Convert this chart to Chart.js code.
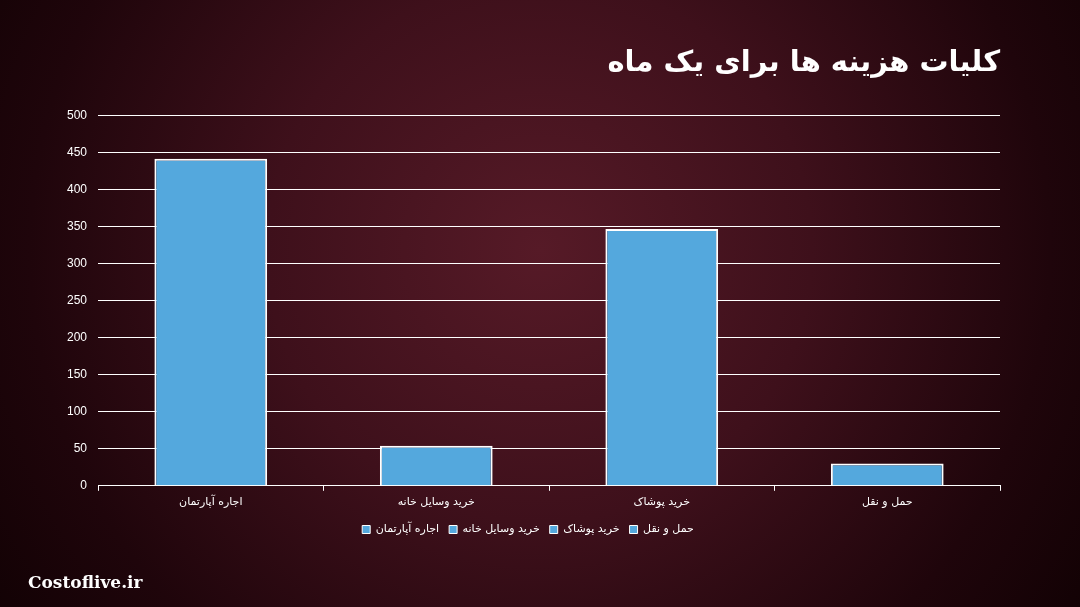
<!DOCTYPE html>
<html>
<head>
<meta charset="utf-8">
<script src="https://cdn.jsdelivr.net/npm/chart.js@4/dist/chart.umd.min.js"></script>
<style>
  html, body { margin: 0; padding: 0; background: #2a0810; }
  #wrap { width: 1080px; height: 607px; position: relative; }
</style>
</head>
<body>
<div id="wrap"><canvas id="c" width="1080" height="607"></canvas></div>
<script>
// داده‌ها
const CATEGORIES = ['اجاره آپارتمان', 'خرید وسایل خانه', 'خرید پوشاک', 'حمل و نقل'];
const COSTS = [442, 54, 347, 30];
const Y_MIN = 0;
const Y_MAX = 500;
const Y_STEP = 50;

const TITLE = 'کلیات هزینه ها برای یک ماه';
const WATERMARK = 'Costoflive.ir';

const BAR_COLOR = '#54a8dd';
const TEXT_COLOR = '#ffffff';
const FA_FONT = '"DejaVu Sans", sans-serif';

// پس‌زمینه زرشکی با گرادیان شعاعی
const bgPlugin = {
  id: 'bg',
  beforeDraw(chart) {
    const { ctx, width, height } = chart;
    ctx.save();
    const g = ctx.createRadialGradient(540, 250, 0, 540, 250, 680);
    g.addColorStop(0, '#561a27');
    g.addColorStop(0.4, '#3e101b');
    g.addColorStop(0.75, '#1f050b');
    g.addColorStop(1, '#100103');
    ctx.fillStyle = g;
    ctx.fillRect(0, 0, width, height);
    ctx.restore();
  },
};

// واترمارک پایین چپ
const markPlugin = {
  id: 'mark',
  afterDraw(chart) {
    const { ctx } = chart;
    ctx.save();
    ctx.fillStyle = TEXT_COLOR;
    ctx.font = 'bold 17px "DejaVu Serif", serif';
    ctx.textBaseline = 'middle';
    ctx.textAlign = 'left';
    ctx.fillText(WATERMARK, 28, 584);
    ctx.restore();
  },
};

new Chart(document.getElementById('c'), {
  type: 'bar',
  data: {
    labels: CATEGORIES,
    datasets: [{
      label: 'هزینه',
      data: COSTS,
      backgroundColor: BAR_COLOR,
      borderColor: '#ffffff',
      borderWidth: 2,
      categoryPercentage: 1,
      barPercentage: 0.5,
    }],
  },
  options: {
    responsive: false,
    animation: false,
    layout: { padding: { left: 56, right: 80, top: 0, bottom: 62 } },
    plugins: {
      title: {
        display: true,
        text: TITLE,
        align: 'end',
        color: TEXT_COLOR,
        font: { family: FA_FONT, size: 29, weight: 'bold' },
        padding: { top: 46, bottom: 35 },
      },
      legend: {
        position: 'bottom',
        labels: {
          color: TEXT_COLOR,
          font: { family: FA_FONT, size: 11 },
          boxWidth: 8,
          boxHeight: 8,
          padding: 10,
          generateLabels: () => CATEGORIES.map((name) => ({
            text: name,
            fillStyle: BAR_COLOR,
            strokeStyle: '#ffffff',
            lineWidth: 1,
            fontColor: TEXT_COLOR,
          })),
        },
      },
      tooltip: { enabled: false },
    },
    scales: {
      x: {
        grid: {
          offset: true,
          drawOnChartArea: false,
          drawTicks: true,
          tickLength: 5,
          color: '#ffffff',
        },
        border: { color: '#ffffff', width: 1 },
        ticks: {
          color: TEXT_COLOR,
          font: { family: FA_FONT, size: 11 },
          padding: 5,
        },
      },
      y: {
        min: Y_MIN,
        max: Y_MAX,
        ticks: {
          stepSize: Y_STEP,
          color: TEXT_COLOR,
          font: { family: '"Liberation Sans", Arial, sans-serif', size: 12 },
          padding: 11,
        },
        grid: {
          color: '#ffffff',
          lineWidth: 1,
          drawTicks: false,
        },
        border: { display: false },
      },
    },
  },
  plugins: [bgPlugin, markPlugin],
});
</script>
</body>
</html>
